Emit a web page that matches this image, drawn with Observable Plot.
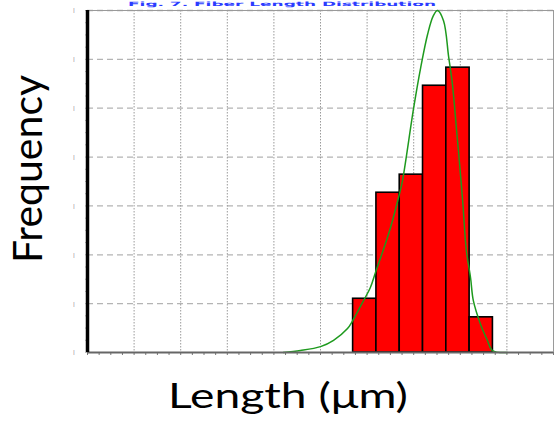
<!DOCTYPE html>
<html>
<head>
<meta charset="utf-8">
<script src="https://cdn.jsdelivr.net/npm/d3@7"></script>
<script src="https://cdn.jsdelivr.net/npm/@observablehq/plot@0.6"></script>
<style>
  html, body { margin: 0; padding: 0; background: #fff; overflow: hidden; }
  #wrap { position: relative; width: 554px; height: 423px; }
  #chart { position: absolute; left: 0; top: 0; }
  .ttl { position: absolute; top: 0px; left: 128px; line-height: 6px; height: 6px;
         font: bold 6px "DejaVu Sans", sans-serif; color: #2b3cff; white-space: nowrap;
         transform-origin: 0 0; }
  .xlab { position: absolute; left: 88px; width: 400px; top: 373px; text-align: center;
          font: 35px Lato, sans-serif; color: #000; white-space: nowrap;
          transform: scaleX(1.32); transform-origin: 50% 50%; }
  .ylab { position: absolute; width: 300px; left: -123px; top: 144px; height: 50px; line-height: 50px;
          text-align: center; font: 41px Lato, sans-serif; color: #000; transform: rotate(-90deg);
          white-space: nowrap; }
</style>
</head>
<body>
<div id="wrap">
  <div id="chart"></div>
  <div class="ttl" id="ttl">Fig. 7. Fiber Length Distribution</div>
  <div class="ylab">Frequency</div>
  <div class="xlab">Length (μm)</div>
</div>
<script>
// Histogram bin edges (x units as on the picture's grid) and bar heights (grid units)
const binEdges = [5.7, 6.2, 6.7, 7.2, 7.7, 8.2, 8.7];
const frequency = [1.10, 3.27, 3.64, 5.46, 5.83, 0.72];

// Fitted distribution curve
const fitX = [4.20, 4.57, 5.00, 5.28, 5.58, 5.69, 5.90, 6.07, 6.18, 6.29, 6.50, 6.70, 6.76, 7.00, 7.15, 7.30, 7.42, 7.51, 7.64, 7.75, 7.83, 7.92, 7.96, 8.05, 8.13, 8.22, 8.28, 8.43, 8.58, 8.69, 9.01];
const fitY = [0.00, 0.04, 0.12, 0.25, 0.49, 0.65, 1.02, 1.33, 1.64, 1.94, 2.55, 3.27, 3.52, 5.01, 5.83, 6.52, 6.89, 7.00, 6.79, 6.05, 5.50, 4.55, 4.13, 3.11, 2.09, 1.53, 1.06, 0.59, 0.25, 0.04, 0.00];

// Grid / tick positions
const xGrid = [1, 2, 3, 4, 5, 6, 7, 8, 9];
const yGrid = [1, 2, 3, 4, 5, 6, 7];
const yMajor = [0, 1, 2, 3, 4, 5, 6, 7];
const xMinor = d3.range(0, 10.001, 0.25);
const yMinor = d3.range(0, 7.001, 0.25);

const bins = frequency.map((f, i) => ({x1: binEdges[i], x2: binEdges[i + 1], y: f}));
const fit = fitX.map((x, i) => ({x, y: fitY[i]}));

const plot = Plot.plot({
  width: 554,
  height: 423,
  marginLeft: 87,
  marginRight: 1,
  marginTop: 10,
  marginBottom: 71,
  style: {background: "transparent", overflow: "visible"},
  x: {domain: [0, 10], axis: null},
  y: {domain: [0, 7], axis: null},
  marks: [
    Plot.gridY({ticks: yGrid, stroke: "#b4b4b4", strokeOpacity: 1, strokeDasharray: "6,4", strokeWidth: 1.3}),
    Plot.gridX({ticks: xGrid, stroke: "#9a9a9a", strokeOpacity: 1, strokeDasharray: "1.5,1.5", strokeWidth: 1}),
    Plot.frame({stroke: "#9a9a9a", strokeWidth: 1}),
    Plot.axisX({ticks: xMinor, tickSize: 3, tickFormat: () => "", stroke: "#777", label: null}),
    Plot.axisY({ticks: yMinor, tickSize: 2, tickFormat: () => "", stroke: "#bbb", label: null}),
    Plot.axisY({ticks: yMajor, tickSize: 0, tickPadding: 12, tickFormat: () => "|", fontSize: 6, fill: "#777", label: null}),
    Plot.rectY(bins, {x1: "x1", x2: "x2", y: "y", fill: "#ff0000", stroke: "#000", strokeWidth: 1.6}),
    Plot.line(fit, {x: "x", y: "y", stroke: "#1e9a1e", strokeWidth: 1.5, curve: "catmull-rom"}),
    Plot.ruleY([0], {stroke: "#666", strokeWidth: 2}),
    Plot.ruleX([0], {stroke: "#000", strokeWidth: 3.5})
  ]
});
document.getElementById("chart").appendChild(plot);

// stretch the tiny title strip across the width it occupies in the reference
const ttl = document.getElementById("ttl");
const w = ttl.getBoundingClientRect().width;
ttl.style.transform = `scaleX(${308 / w})`;
</script>
</body>
</html>
